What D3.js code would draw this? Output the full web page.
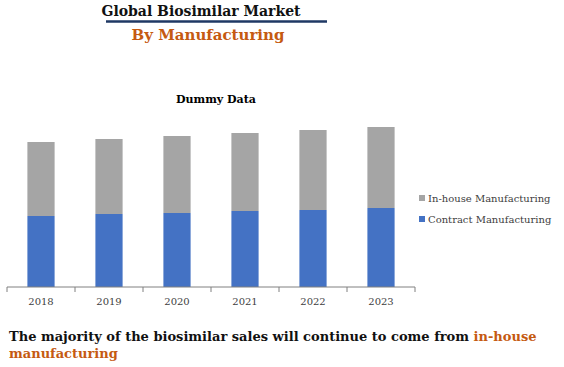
<!DOCTYPE html>
<html>
<head>
<meta charset="utf-8">
<script src="https://cdn.jsdelivr.net/npm/d3@7"></script>
<style>
  body { margin: 0; background: #fff; }
  svg text { font-family: "DejaVu Serif", serif; }
</style>
</head>
<body>
<div id="viz"></div>
<script>
// datos (unidades arbitrarias)
const years = ['2018', '2019', '2020', '2021', '2022', '2023'];
const contract = [71, 73, 74, 76, 77, 79];
const inhouse = [74, 75, 77, 78, 80, 81];
const seriesNames = ['In-house Manufacturing', 'Contract Manufacturing'];
const colors = {contract: '#4472c4', inhouse: '#a5a5a5'};

const W = 564, H = 367;
const svg = d3.select('#viz').append('svg')
  .attr('width', W).attr('height', H);

// títulos
svg.append('text').attr('x', 201).attr('y', 16).attr('text-anchor', 'middle')
  .attr('font-size', 14).attr('font-weight', 'bold').attr('fill', '#111')
  .text('Global Biosimilar Market');
svg.append('line').attr('x1', 106).attr('x2', 327).attr('y1', 21.5).attr('y2', 21.5)
  .attr('stroke', '#1f3864').attr('stroke-width', 2.5);
svg.append('text').attr('x', 208).attr('y', 40).attr('text-anchor', 'middle')
  .attr('font-size', 15).attr('font-weight', 'bold').attr('fill', '#c55a11')
  .text('By Manufacturing');
svg.append('text').attr('x', 216).attr('y', 103).attr('text-anchor', 'middle')
  .attr('font-size', 11).attr('font-weight', 'bold').attr('fill', '#000')
  .text('Dummy Data');

const x = d3.scaleBand().domain(years).range([7, 415]).paddingInner(0.6).paddingOuter(0.3);
const y = d3.scaleLinear().domain([0, 200]).range([287, 87]);

const rows = years.map((yr, i) => ({year: yr, contract: contract[i], inhouse: inhouse[i]}));
const stack = d3.stack().keys(['contract', 'inhouse'])(rows);

svg.append('g').selectAll('g').data(stack).join('g')
  .attr('fill', d => colors[d.key])
  .selectAll('rect').data(d => d).join('rect')
  .attr('x', d => x(d.data.year))
  .attr('width', x.bandwidth())
  .attr('y', d => y(d[1]))
  .attr('height', d => y(d[0]) - y(d[1]));

// eje x con marcas entre categorías
const axis = svg.append('g').attr('transform', `translate(0,${y(0)})`);
axis.append('line').attr('x1', 7).attr('x2', 415).attr('stroke', '#808080');
axis.selectAll('.tick').data(d3.range(years.length + 1)).join('line')
  .attr('x1', i => 7 + i * (408 / years.length)).attr('x2', i => 7 + i * (408 / years.length))
  .attr('y1', 0).attr('y2', 5).attr('stroke', '#808080');
axis.selectAll('text').data(years).join('text')
  .attr('x', d => x(d) + x.bandwidth() / 2).attr('y', 18)
  .attr('text-anchor', 'middle').attr('font-size', 10).attr('fill', '#404040')
  .text(d => d);

// leyenda
const legend = svg.append('g');
[['inhouse', seriesNames[0], 198], ['contract', seriesNames[1], 219]].forEach(([k, name, ly]) => {
  legend.append('rect').attr('x', 419).attr('y', ly - 3).attr('width', 6).attr('height', 6)
    .attr('fill', colors[k]);
  legend.append('text').attr('x', 428).attr('y', ly + 4).attr('font-size', 10)
    .attr('fill', '#404040').text(name);
});

// conclusión
const foot = svg.append('text').attr('x', 9).attr('y', 341)
  .attr('font-size', 13).attr('font-weight', 'bold').attr('fill', '#111');
foot.append('tspan').text('The majority of the biosimilar sales will continue to come from ');
foot.append('tspan').attr('fill', '#c55a11').text('in-house');
svg.append('text').attr('x', 9).attr('y', 358)
  .attr('font-size', 13).attr('font-weight', 'bold').attr('fill', '#c55a11')
  .text('manufacturing');
</script>
</body>
</html>
